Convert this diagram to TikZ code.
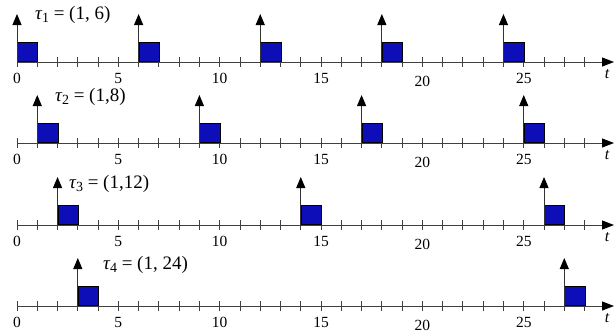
\documentclass[tikz,border=0pt]{standalone}
\usepackage{fontspec}
\setmainfont{Liberation Serif}
\usetikzlibrary{arrows.meta}
\definecolor{jobblue}{RGB}{14,14,185}
\newcommand{\tsub}[1]{\raisebox{-0.38ex}{\fontsize{14}{14}\selectfont #1}}
\begin{document}
\begin{tikzpicture}[x=1pt,y=-1pt,
  axisline/.style={line width=1pt, draw=black!75, -{Triangle[length=12pt,width=9pt,fill=black,color=black]}},
  tickmark/.style={line width=0.9pt, draw=black!75},
  jobbox/.style={draw=black, line width=0.6pt, fill=jobblue, inner sep=0pt, anchor=south west, minimum width=20.27pt, minimum height=19.5pt},
  release/.style={line width=1pt, draw=black!80, -{Triangle[length=11pt,width=9pt,fill=black,color=black]}},
  numlabel/.style={font=\fontsize{15.5}{15.5}\selectfont, inner sep=0pt},
  tlabel/.style={font=\fontsize{16}{16}\selectfont\itshape, inner sep=0pt},
  tasklabel/.style={font=\fontsize{19}{19}\selectfont, inner sep=0pt, anchor=west}]
\useasboundingbox (0,0) rectangle (614,333);
\def\ux{20.27}
\def\xo{17}
% axes, ticks, numbers
\foreach \Y/\N in {62/1,143/2,225/3,306/4}{
  \coordinate (axs\N) at (\xo,\Y);
  \coordinate (axe\N) at (614,\Y);
  \draw[axisline] (axs\N) -- (axe\N);
  \foreach \k in {0,...,28}{
    \coordinate (tku\N-\k) at ({\xo+\k*\ux},{\Y-5});
    \coordinate (tkd\N-\k) at ({\xo+\k*\ux},{\Y+5});
    \draw[tickmark] (tku\N-\k) -- (tkd\N-\k);
  }
  \foreach \v in {0,5,10,15,25}{
    \node[numlabel] (num\N-\v) at ({\xo+\v*\ux},{\Y+16}) {\v};
  }
  \node[numlabel] (num\N-20) at ({\xo+20*\ux},{\Y+19}) {20};
  \node[tlabel] (t\N) at (607,{\Y+12.5}) {t};
}
% jobs
\foreach \r/\Y/\N in {0/62/1,6/62/1,12/62/1,18/62/1,24/62/1,
                      1/143/2,9/143/2,17/143/2,25/143/2,
                      2/225/3,14/225/3,26/225/3,
                      3/306/4,27/306/4}{
  \node[jobbox] (job\N-\r) at ({\xo+\r*\ux},\Y) {};
  \coordinate (rel\N-\r) at ({\xo+\r*\ux},{\Y-48});
  \draw[release] (job\N-\r.south west) -- (rel\N-\r);
}
% task labels
\node[tasklabel] (task1) at (35,14.5) {{\itshape τ}\tsub{1} = (1, 6)};
\node[tasklabel] (task2) at (55,97) {{\itshape τ}\tsub{2} = (1,8)};
\node[tasklabel] (task3) at (69,184) {{\itshape τ}\tsub{3} = (1,12)};
\node[tasklabel] (task4) at (103,265) {{\itshape τ}\tsub{4} = (1, 24)};
\end{tikzpicture}
\end{document}
